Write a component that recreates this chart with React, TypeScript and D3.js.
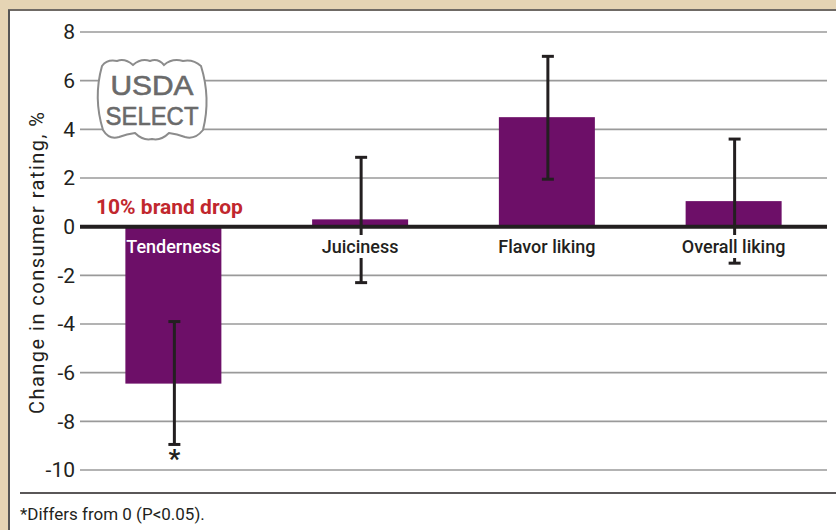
import React from "react";
import * as d3 from "d3";

const categories = ["Tenderness", "Juiciness", "Flavor liking", "Overall liking"];
const values = [-6.45, 0.3, 4.5, 1.05];
const errLow = [-8.95, -2.3, 1.95, -1.5];
const errHigh = [-3.9, 2.85, 7.0, 3.6];
const significant = [true, false, false, false];
const yTicks = [8, 6, 4, 2, 0, -2, -4, -6, -8, -10];

const W = 836;
const H = 530;
const FONT = "Roboto, 'Noto Sans', sans-serif";

export default function App() {
  const y = d3.scaleLinear().domain([-10, 8]).range([470, 32]);
  const x = d3.scaleBand<string>().domain(categories).range([80, 827]);
  const barW = 96;
  const cx = (c: string) => (x(c) as number) + x.bandwidth() / 2;

  const shieldPath =
    "M7,8 Q12,1 22,3 Q30,0 38,7 Q46,0 55,3 Q63,0 69,7 Q77,0 88,3 Q98,1 106,8 " +
    "Q116,40 108,72 Q100,82 90,79 Q82,76 74,75 Q66,83 57,81 Q48,83 40,75 Q32,76 24,79 Q14,82 8,72 " +
    "Q-2,40 7,8 Z";

  return (
    <svg
      width={W}
      height={H}
      style={{ position: "absolute", left: 0, top: 0, fontFamily: FONT }}
    >
      <rect x={0} y={0} width={W} height={H} fill="#e5d4b4" />
      <rect x={8} y={10} width={W} height={H} fill="#ffffff" />
      <line x1={8} x2={W} y1={10} y2={10} stroke="#6f6a65" strokeWidth={2} />
      <line x1={9} x2={9} y1={10} y2={H} stroke="#555" strokeWidth={2} />

      {/* gridlines */}
      {yTicks.map((t) => (
        <g key={t}>
          {t !== 0 && (
            <line x1={80} x2={827} y1={y(t)} y2={y(t)} stroke="#9a9a9a" strokeWidth={1.6} />
          )}
          <text
            x={75}
            y={y(t)}
            dy="0.35em"
            textAnchor="end"
            fontSize={21}
            fill="#231f20"
          >
            {t}
          </text>
        </g>
      ))}

      {/* shield */}
      <g transform="translate(95,58)">
        <path d={shieldPath} fill="#ffffff" stroke="#8c8c8c" strokeWidth={2} />
        <text
          x={57}
          y={37}
          textAnchor="middle"
          fontSize={27}
          fill="#6a6a6a"
          stroke="#6a6a6a"
          strokeWidth={0.6}
          fontFamily="'Liberation Sans Narrow', 'Liberation Sans', Arial, sans-serif"
          textLength={83}
          lengthAdjust="spacingAndGlyphs"
        >
          USDA
        </text>
        <text
          x={57}
          y={67}
          textAnchor="middle"
          fontSize={26}
          fill="#6a6a6a"
          stroke="#6a6a6a"
          strokeWidth={0.6}
          fontFamily="'Liberation Sans Narrow', 'Liberation Sans', Arial, sans-serif"
          textLength={93}
          lengthAdjust="spacingAndGlyphs"
        >
          SELECT
        </text>
      </g>

      {/* bars */}
      {categories.map((c, i) => (
        <rect
          key={c}
          x={cx(c) - barW / 2}
          y={Math.min(y(values[i]), y(0))}
          width={barW}
          height={Math.abs(y(values[i]) - y(0))}
          fill="#6d0f68"
        />
      ))}

      {/* zero line */}
      <line x1={80} x2={827} y1={y(0)} y2={y(0)} stroke="#231f20" strokeWidth={4} />

      {/* error bars */}
      {categories.map((c, i) => {
        const ex = cx(c) + 1;
        return (
          <g key={c} stroke="#231f20" strokeWidth={3}>
            <line x1={ex} x2={ex} y1={y(errHigh[i])} y2={y(errLow[i])} />
            <line x1={ex - 6} x2={ex + 6} y1={y(errHigh[i])} y2={y(errHigh[i])} />
            <line x1={ex - 6} x2={ex + 6} y1={y(errLow[i])} y2={y(errLow[i])} />
          </g>
        );
      })}

      {/* category labels */}
      {categories.map((c, i) => {
        const inside = values[i] < 0;
        const lw = c.length * 9.2;
        return (
          <g key={c}>
            {!inside && (
              <rect x={cx(c) - lw / 2} y={235} width={lw} height={23} fill="#ffffff" />
            )}
            <text
              x={cx(c)}
              y={253}
              textAnchor="middle"
              fontSize={18}
              fontWeight={500}
              fill={inside ? "#ffffff" : "#231f20"}
            >
              {c}
            </text>
          </g>
        );
      })}

      {/* significance marks */}
      {categories.map((c, i) =>
        significant[i] ? (
          <text
            key={c}
            x={cx(c) + 1}
            y={y(errLow[i]) + 24}
            textAnchor="middle"
            fontSize={26}
            fontWeight={700}
            fill="#231f20"
          >
            *
          </text>
        ) : null
      )}

      <text x={96} y={214} fontSize={21} fontWeight={700} fill="#c1272d">
        10% brand drop
      </text>

      <text
        transform={`translate(44,263) rotate(-90)`}
        textAnchor="middle"
        fontSize={20}
        fill="#231f20"
        textLength={302}
        lengthAdjust="spacing"
      >
        Change in consumer rating, %
      </text>

      <line x1={20} x2={W} y1={493} y2={493} stroke="#231f20" strokeWidth={1.5} />
      <text x={20} y={520} fontSize={17} fill="#231f20">
        *Differs from 0 (P&lt;0.05).
      </text>
    </svg>
  );
}
